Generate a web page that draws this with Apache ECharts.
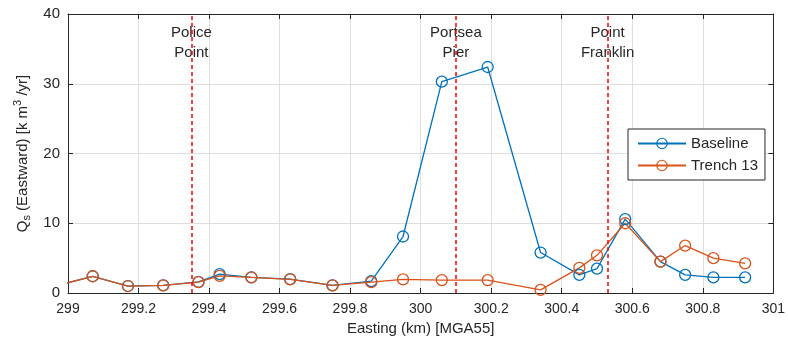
<!DOCTYPE html>
<html>
<head>
<meta charset="utf-8">
<script src="https://cdn.jsdelivr.net/npm/echarts@6/dist/echarts.min.js"></script>
<style>
  html, body { margin: 0; padding: 0; background: #fff; }
  #chart { width: 788px; height: 345px; }
</style>
</head>
<body>
<div id="chart"></div>
<script>
// eastings of the profile points (km)
const easting = [298.98, 299.07, 299.17, 299.27, 299.37, 299.43, 299.52, 299.63, 299.75, 299.86, 299.95,
  300.06, 300.19, 300.34, 300.45, 300.50, 300.58, 300.68, 300.75, 300.83, 300.92]
// Qs eastward transport (k m3/yr)
const baseline = [1.2, 2.4, 1.0, 1.1, 1.6, 2.7, 2.25, 2.0, 1.1, 1.7, 8.1,
  30.3, 32.4, 5.8, 2.6, 3.5, 10.6, 4.5, 2.6, 2.25, 2.25]
const trench13 = [1.2, 2.4, 1.0, 1.1, 1.55, 2.45, 2.25, 1.95, 1.1, 1.55, 1.95,
  1.85, 1.85, 0.45, 3.6, 5.4, 10.0, 4.5, 6.8, 5.0, 4.25]
// landmarks drawn as red dashed lines
const landmarkNames = ['Police\nPoint', 'Portsea\nPier', 'Point\nFranklin']
const landmarkX = [299.35, 300.10, 300.53]
const landmarkLabelY = 35.8

const seriesNames = ['Baseline', 'Trench 13']
const xTicks = { min: 299, max: 301, interval: 0.2 }
const yTicks = { min: 0, max: 40, interval: 10 }

const BLUE = '#0072BD'
const ORANGE = '#D95319'
const AXIS = '#262626'
const FONT = '"Liberation Sans", Arial, sans-serif'

const chart = echarts.init(document.getElementById('chart'), null, { renderer: 'canvas' })

function pts(ys) {
  return easting.map((x, i) => [x, ys[i]])
}

function lineSeries(name, ys, color) {
  return {
    name: name,
    type: 'line',
    data: pts(ys),
    symbol: 'circle',
    symbolSize: 11,
    showSymbol: true,
    clip: true,
    lineStyle: { color: color, width: 1.3 },
    itemStyle: { color: 'rgba(255,255,255,0)', borderColor: color, borderWidth: 1.3 },
    emphasis: { disabled: true },
    z: 3
  }
}

const tickLabel = v => String(+v.toFixed(1))

const option = {
  animation: false,
  textStyle: { fontFamily: FONT },
  grid: { left: 68, right: 12, top: 14, bottom: 52 },
  legend: {
    orient: 'vertical',
    left: 628,
    top: 129,
    padding: [7, 7, 7, 9],
    itemWidth: 48,
    itemHeight: 13,
    itemGap: 7,
    borderColor: AXIS,
    borderWidth: 1,
    backgroundColor: '#fff',
    itemStyle: { borderWidth: 1.1 },
    textStyle: { fontSize: 15, color: AXIS, fontFamily: FONT },
    data: seriesNames
  },
  xAxis: [{
    type: 'value',
    min: xTicks.min, max: xTicks.max, interval: xTicks.interval,
    name: 'Easting (km) [MGA55]',
    nameLocation: 'middle',
    nameGap: 28,
    nameTextStyle: { fontSize: 15, color: AXIS, fontFamily: FONT },
    axisLine: { show: true, onZero: false, lineStyle: { color: AXIS, width: 1 } },
    axisTick: { show: true, inside: true, length: 5, lineStyle: { color: AXIS } },
    axisLabel: { fontSize: 14, color: AXIS, margin: 9, formatter: tickLabel },
    splitLine: { show: true, lineStyle: { color: '#dedede', width: 1 } }
  }, {
    type: 'value', position: 'top',
    min: xTicks.min, max: xTicks.max, interval: xTicks.interval,
    axisLine: { show: true, onZero: false, lineStyle: { color: AXIS, width: 1 } },
    axisTick: { show: true, inside: true, length: 5, lineStyle: { color: AXIS } },
    axisLabel: { show: false },
    splitLine: { show: false }
  }],
  yAxis: [{
    type: 'value',
    min: yTicks.min, max: yTicks.max, interval: yTicks.interval,
    name: '{a|Q}{sub|s}{a| (Eastward) [k m}{sup|3}{a| /yr]}',
    nameLocation: 'middle',
    nameRotate: 90,
    nameGap: 33,
    nameTextStyle: {
      color: AXIS, fontFamily: FONT,
      rich: {
        a: { fontSize: 15, lineHeight: 20, color: AXIS, fontFamily: FONT },
        sub: { fontSize: 11, lineHeight: 10, verticalAlign: 'bottom', color: AXIS, fontFamily: FONT },
        sup: { fontSize: 11, lineHeight: 10, verticalAlign: 'top', color: AXIS, fontFamily: FONT }
      }
    },
    axisLine: { show: true, onZero: false, lineStyle: { color: AXIS, width: 1 } },
    axisTick: { show: true, inside: true, length: 5, lineStyle: { color: AXIS } },
    axisLabel: { fontSize: 15, color: AXIS, margin: 8 },
    splitLine: { show: true, lineStyle: { color: '#dedede', width: 1 } }
  }, {
    type: 'value', position: 'right',
    min: yTicks.min, max: yTicks.max, interval: yTicks.interval,
    axisLine: { show: true, onZero: false, lineStyle: { color: AXIS, width: 1 } },
    axisTick: { show: true, inside: true, length: 5, lineStyle: { color: AXIS } },
    axisLabel: { show: false },
    splitLine: { show: false }
  }],
  series: [
    lineSeries(seriesNames[0], baseline, BLUE),
    lineSeries(seriesNames[1], trench13, ORANGE),
    {
      // landmark dashed lines and their names
      name: 'landmarks',
      type: 'scatter',
      symbolSize: 1,
      itemStyle: { opacity: 1, color: 'rgba(0,0,0,0)' },
      data: landmarkX.map((x, i) => ({ value: [x, landmarkLabelY], label: { formatter: landmarkNames[i] } })),
      label: {
        show: true, position: 'inside',
        fontSize: 15, lineHeight: 20, color: AXIS, fontFamily: FONT, opacity: 1
      },
      emphasis: { disabled: true },
      markLine: {
        silent: true,
        symbol: ['none', 'none'],
        label: { show: false },
        lineStyle: { color: '#ff0000', type: [4, 3], width: 1.5 },
        data: landmarkX.map(x => ({ xAxis: x }))
      },
      z: 4
    }
  ]
}

chart.setOption(option)
</script>
</body>
</html>
